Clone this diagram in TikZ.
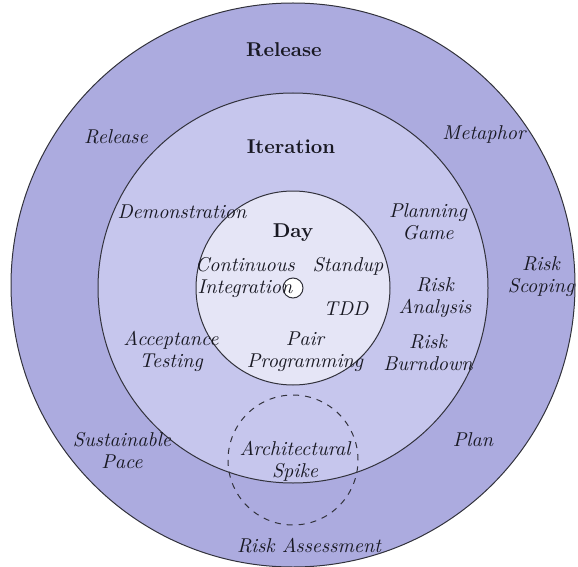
\documentclass[tikz,border=0pt]{standalone}
\definecolor{outerc}{RGB}{172,171,223}
\definecolor{midc}{RGB}{198,198,237}
\definecolor{innerc}{RGB}{229,229,246}
\definecolor{linec}{RGB}{50,50,60}
\definecolor{textc}{RGB}{25,25,35}
\begin{document}
\begin{tikzpicture}[x=0.5pt,y=-0.5pt,
  ring/.style={circle,draw=linec,line width=0.5pt,inner sep=0pt,outer sep=0pt},
  lbl/.style={text=textc,align=center,inner sep=0pt,font={\itshape\fontsize{10}{11}\selectfont}},
  ttl/.style={text=textc,inner sep=0pt,font=\bfseries\fontsize{10}{11}\selectfont}]
\useasboundingbox (0,0) rectangle (578,567);
\node[ring,fill=outerc,minimum size=282pt] (outer) at (293,285) {};
\node[ring,fill=midc,minimum size=195pt] (middle) at (293,288) {};
\node[ring,fill=innerc,minimum size=97pt] (inner) at (293,288) {};
\node[ring,fill=white,minimum size=10pt] (core) at (293,288) {};
\node[ring,dashed,minimum size=65pt] (spike) at (293,460) {};
% titles
\node[ttl] (trelease) at (284,50) {Release};
\node[ttl] (titer) at (291,147) {Iteration};
\node[ttl] (tday) at (293,233) {Day};
% release ring
\node[lbl] (lrelease) at (116,137) {Release};
\node[lbl] (lmetaphor) at (484,135) {Metaphor};
\node[lbl] (lscoping) at (541,277) {Risk\\Scoping};
\node[lbl] (lsustain) at (122,451) {Sustainable\\Pace};
\node[lbl] (lplan) at (473,440) {Plan};
\node[lbl] (lassess) at (309,546) {Risk Assessment};
% iteration ring
\node[lbl] (ldemo) at (182,212) {Demonstration};
\node[lbl] (lplanning) at (428,222) {Planning\\Game};
\node[lbl] (lanalysis) at (435,298) {Risk\\Analysis};
\node[lbl] (laccept) at (171,351) {Acceptance\\Testing};
\node[lbl] (lburn) at (428,353) {Risk\\Burndown};
\node[lbl] (lspike) at (295,461) {Architectural\\Spike};
% day
\node[lbl] (lci) at (245,277) {Continuous\\Integration};
\node[lbl] (lstandup) at (348,266) {Standup};
\node[lbl] (ltdd) at (346,309) {TDD};
\node[lbl] (lpair) at (305,352) {Pair\\Programming};
\end{tikzpicture}
\end{document}
